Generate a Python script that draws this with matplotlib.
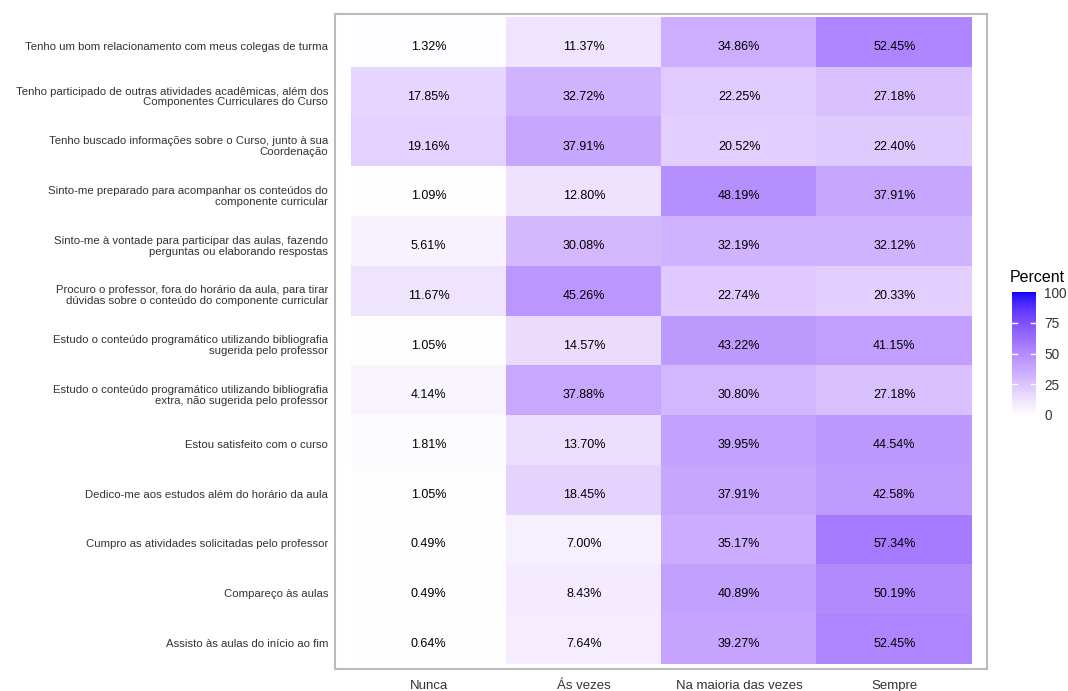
import numpy as np
import matplotlib
matplotlib.use("Agg")
import matplotlib.pyplot as plt
import matplotlib.transforms as mtransforms
from matplotlib.colors import ListedColormap

plt.rcParams['font.family'] = ['Liberation Sans', 'DejaVu Sans']

categories = ["Nunca", "Ás vezes", "Na maioria das vezes", "Sempre"]
statements = [
    "Tenho um bom relacionamento com meus colegas de turma",
    "Tenho participado de outras atividades acadêmicas, além dos\nComponentes Curriculares do Curso",
    "Tenho buscado informações sobre o Curso, junto à sua\nCoordenação",
    "Sinto-me preparado para acompanhar os conteúdos do\ncomponente curricular",
    "Sinto-me à vontade para participar das aulas, fazendo\nperguntas ou elaborando respostas",
    "Procuro o professor, fora do horário da aula, para tirar\ndúvidas sobre o conteúdo do componente curricular",
    "Estudo o conteúdo programático utilizando bibliografia\nsugerida pelo professor",
    "Estudo o conteúdo programático utilizando bibliografia\nextra, não sugerida pelo professor",
    "Estou satisfeito com o curso",
    "Dedico-me aos estudos além do horário da aula",
    "Cumpro as atividades solicitadas pelo professor",
    "Compareço às aulas",
    "Assisto às aulas do início ao fim",
]
nunca = [1.32, 17.85, 19.16, 1.09, 5.61, 11.67, 1.05, 4.14, 1.81, 1.05, 0.49, 0.49, 0.64]
as_vezes = [11.37, 32.72, 37.91, 12.80, 30.08, 45.26, 14.57, 37.88, 13.70, 18.45, 7.00, 8.43, 7.64]
maioria = [34.86, 22.25, 20.52, 48.19, 32.19, 22.74, 43.22, 30.80, 39.95, 37.91, 35.17, 40.89, 39.27]
sempre = [52.45, 27.18, 22.40, 37.91, 32.12, 20.33, 41.15, 27.18, 44.54, 42.58, 57.34, 50.19, 52.45]
legend_ticks = [0, 25, 50, 75, 100]


# white -> blue gradient interpolated in CIE Lab (like ggplot2)
def srgb_to_lab(rgb):
    rgb = np.asarray(rgb, float)
    lin = np.where(rgb <= 0.04045, rgb / 12.92, ((rgb + 0.055) / 1.055) ** 2.4)
    M = np.array([[0.4124564, 0.3575761, 0.1804375],
                  [0.2126729, 0.7151522, 0.0721750],
                  [0.0193339, 0.1191920, 0.9503041]])
    xyz = M @ lin
    wp = np.array([0.95047, 1.0, 1.08883])
    t = xyz / wp
    f = np.where(t > (6 / 29) ** 3, np.cbrt(t), t / (3 * (6 / 29) ** 2) + 4 / 29)
    return np.array([116 * f[1] - 16, 500 * (f[0] - f[1]), 200 * (f[1] - f[2])])


def lab_to_srgb(lab):
    L, a, b = lab
    fy = (L + 16) / 116
    fx = fy + a / 500
    fz = fy - b / 200
    def finv(f):
        return np.where(f > 6 / 29, f ** 3, 3 * (6 / 29) ** 2 * (f - 4 / 29))
    wp = np.array([0.95047, 1.0, 1.08883])
    xyz = np.array([finv(fx), finv(fy), finv(fz)]) * wp
    Minv = np.array([[3.2404542, -1.5371385, -0.4985314],
                     [-0.9692660, 1.8760108, 0.0415560],
                     [0.0556434, -0.2040259, 1.0572252]])
    lin = Minv @ xyz
    lin = np.clip(lin, 0, 1)
    rgb = np.where(lin <= 0.0031308, 12.92 * lin, 1.055 * lin ** (1 / 2.4) - 0.055)
    return np.clip(rgb, 0, 1)


lab_lo = srgb_to_lab([1, 1, 1])
lab_hi = srgb_to_lab([0, 0, 1])
ts = np.linspace(0, 1, 256)
cmap = ListedColormap([lab_to_srgb(lab_lo + t * (lab_hi - lab_lo)) for t in ts])

data = np.array([nunca, as_vezes, maioria, sempre]).T  # rows x cols

W, H = 1068, 691
fig = plt.figure(figsize=(W / 100, H / 100), dpi=100)
ax = fig.add_axes([335 / W, 1 - 669 / H, (987 - 335) / W, (669 - 14) / H])

nr, nc = data.shape
ax.imshow(data, cmap=cmap, vmin=0, vmax=100, aspect='auto',
          extent=(-0.5, nc - 0.5, nr - 0.5, -0.5), interpolation='nearest')
down = mtransforms.ScaledTranslation(0, -4.5 / 100, fig.dpi_scale_trans)
for i in range(nr):
    for j in range(nc):
        ax.text(j, i, f"{data[i, j]:.2f}%", ha='center', va='center',
                fontsize=9, color='black', transform=ax.transData + down)

ax.set_xlim(-0.603, 3.597)
ax.set_ylim(nr - 0.5 + 0.1, -0.5 - 0.08)
ax.set_xticks(range(nc))
ax.set_xticklabels(categories, fontsize=9.5, color='#333333')
ax.set_yticks([])
# y category labels, drawn as text aligned with the rows
label_trans = mtransforms.blended_transform_factory(ax.transAxes, ax.transData) + \
    mtransforms.ScaledTranslation(-7 / 100, -4.5 / 100, fig.dpi_scale_trans)
for i, s in enumerate(statements):
    ax.text(0, i, s, ha='right', va='center', multialignment='right',
            fontsize=8.2, color='#333333', linespacing=1.1,
            transform=label_trans, clip_on=False)
ax.tick_params(length=0, pad=6)
ax.tick_params(axis='x', pad=8)
for s in ax.spines.values():
    s.set_color('#BBBBBB')
    s.set_linewidth(1.5)

# colorbar
cax = fig.add_axes([1012 / W, 1 - 415 / H, 24 / W, 123 / H])
grad = np.linspace(0, 100, 256).reshape(-1, 1)
cax.imshow(grad, cmap=cmap, vmin=0, vmax=100, aspect='auto', origin='lower',
           extent=(0, 1, 0, 100))
for v in legend_ticks[1:-1]:
    cax.plot([0, 0.2], [v, v], color='white', lw=1)
    cax.plot([0.8, 1], [v, v], color='white', lw=1)
cax.set_xlim(0, 1)
cax.set_ylim(0, 100)
cax.set_xticks([])
cax.yaxis.tick_right()
cax.set_yticks(legend_ticks)
cax.set_yticklabels([str(v) for v in legend_ticks], fontsize=9.8, color='#333333')
cax.tick_params(length=0, pad=6)
for s in cax.spines.values():
    s.set_visible(False)
fig.text(1010 / W, 1 - 278 / H, "Percent", fontsize=11.5, ha='left', va='center', color='black')

fig.savefig("out.png", dpi=100)
